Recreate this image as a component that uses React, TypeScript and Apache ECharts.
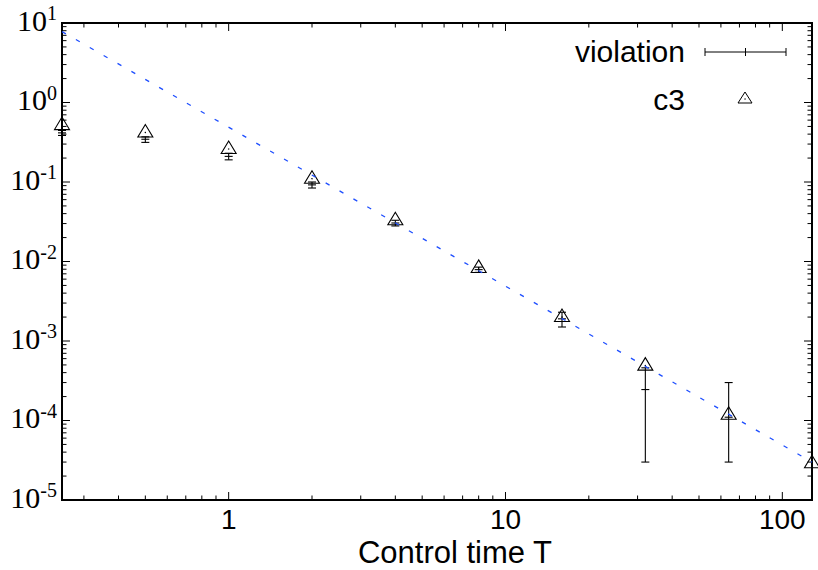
import React, { useEffect, useRef } from "react";
import * as echarts from "echarts";

// ---- data ----
const T_VALUES = [0.25, 0.5, 1, 2, 4, 8, 16, 32, 64, 128];
const C3_VALUES = [0.52, 0.42, 0.26, 0.11, 0.033, 0.0083, 0.002, 0.00049, 0.000118, 0.000029];

const VIOLATION_T = [0.25, 0.5, 1, 2, 4, 8, 16, 32, 64];
const VIOLATION_MEAN = [0.415, 0.345, 0.21, 0.092, 0.0305, 0.0079, 0.0019, 0.000245, 0.00011];
const VIOLATION_LOW = [0.385, 0.315, 0.19, 0.084, 0.028, 0.0073, 0.0015, 0.00003, 0.00003];
const VIOLATION_HIGH = [0.445, 0.37, 0.23, 0.1, 0.033, 0.0085, 0.0023, 0.00046, 0.0003];

const FIT_T = [0.25, 128];
const FIT_VALUES = [7.8, 0.00003];

// ---- axes ----
const X_MIN = 0.25;
const X_MAX = 128;
const Y_MIN = 1e-5;
const Y_MAX = 10;
const X_LABEL_VALUES = [1, 10, 100];
const X_LABEL_TEXTS = ["1", "10", "100"];
const Y_LABEL_VALUES = [1e-5, 1e-4, 1e-3, 1e-2, 1e-1, 1, 10];
const Y_LABEL_EXPONENTS = ["-5", "-4", "-3", "-2", "-1", "0", "1"];
const X_MAJOR_TICKS = [1, 10, 100];
const X_MINOR_TICKS = [
  0.3, 0.4, 0.5, 0.6, 0.7, 0.8, 0.9,
  2, 3, 4, 5, 6, 7, 8, 9,
  20, 30, 40, 50, 60, 70, 80, 90,
];
const Y_MAJOR_TICKS = [1e-5, 1e-4, 1e-3, 1e-2, 1e-1, 1, 10];
const Y_MINOR_MULTIPLIERS = [2, 3, 4, 5, 6, 7, 8, 9];
const Y_DECADES = [1e-5, 1e-4, 1e-3, 1e-2, 1e-1, 1];

const SANS = "'Liberation Sans', Arial, Helvetica, sans-serif";
const SERIF = "'Liberation Serif', 'Times New Roman', serif";

export default function App() {
  const ref = useRef<HTMLDivElement>(null);

  useEffect(() => {
    if (!ref.current) return;
    const chart = echarts.init(ref.current, undefined, { renderer: "svg" });

    const yMinor: number[] = [];
    Y_DECADES.forEach((d) =>
      Y_MINOR_MULTIPLIERS.forEach((m) => yMinor.push(parseFloat((d * m).toPrecision(3))))
    );

    // tick items: [x, y, kind(0=x,1=y), major]
    const tickData: number[][] = [];
    X_MAJOR_TICKS.forEach((v) => tickData.push([v, Y_MIN, 0, 1]));
    X_MINOR_TICKS.forEach((v) => tickData.push([v, Y_MIN, 0, 0]));
    Y_MAJOR_TICKS.forEach((v) => tickData.push([X_MIN, v, 1, 1]));
    yMinor.forEach((v) => tickData.push([X_MIN, v, 1, 0]));

    const black = "#000";

    const option: any = {
      animation: false,
      backgroundColor: "#fff",
      grid: {
        left: 62,
        right: 6,
        top: 23,
        bottom: 70,
        show: true,
        borderColor: black,
        borderWidth: 2,
        backgroundColor: "transparent",
      },
      xAxis: {
        type: "log",
        logBase: 10,
        min: X_MIN,
        max: X_MAX,
        axisLine: { show: false },
        axisTick: { show: false },
        axisLabel: { show: false },
        splitLine: { show: false },
      },
      yAxis: {
        type: "log",
        logBase: 10,
        min: Y_MIN,
        max: Y_MAX,
        axisLine: { show: false },
        axisTick: { show: false },
        axisLabel: { show: false },
        splitLine: { show: false },
      },
      series: [
        {
          name: "ticks",
          type: "custom",
          clip: false,
          silent: true,
          encode: { x: 0, y: 1 },
          data: tickData,
          renderItem: (params: any, api: any) => {
            const kind = api.value(2);
            const len = api.value(3) ? 8 : 4.5;
            const st = { stroke: black, lineWidth: 1 };
            if (kind === 0) {
              const b = api.coord([api.value(0), Y_MIN]);
              const t = api.coord([api.value(0), Y_MAX]);
              return {
                type: "group",
                children: [
                  { type: "line", shape: { x1: b[0], y1: b[1], x2: b[0], y2: b[1] - len }, style: st },
                  { type: "line", shape: { x1: t[0], y1: t[1], x2: t[0], y2: t[1] + len }, style: st },
                ],
              };
            }
            const l = api.coord([X_MIN, api.value(1)]);
            const r = api.coord([X_MAX, api.value(1)]);
            return {
              type: "group",
              children: [
                { type: "line", shape: { x1: l[0], y1: l[1], x2: l[0] + len, y2: l[1] }, style: st },
                { type: "line", shape: { x1: r[0], y1: r[1], x2: r[0] - len, y2: r[1] }, style: st },
              ],
            };
          },
        },
        {
          name: "xLabels",
          type: "custom",
          clip: false,
          silent: true,
          encode: { x: 0, y: 1 },
          data: X_LABEL_VALUES.map((v) => [v, Y_MIN]),
          renderItem: (params: any, api: any) => {
            const p = api.coord([api.value(0), Y_MIN]);
            return {
              type: "text",
              x: p[0],
              y: p[1] + 19,
              style: {
                text: X_LABEL_TEXTS[params.dataIndex],
                fontFamily: SANS,
                fontSize: 28,
                fill: black,
                align: "center",
                verticalAlign: "middle",
              },
            };
          },
        },
        {
          name: "yLabels",
          type: "custom",
          clip: false,
          silent: true,
          encode: { x: 0, y: 1 },
          data: Y_LABEL_VALUES.map((v) => [X_MIN, v]),
          renderItem: (params: any, api: any) => {
            const p = api.coord([X_MIN, api.value(1)]);
            return {
              type: "text",
              x: p[0] - 5,
              y: p[1] - 3,
              style: {
                text: "{b|10}{s|" + Y_LABEL_EXPONENTS[params.dataIndex] + "}",
                align: "right",
                verticalAlign: "middle",
                fill: black,
                rich: {
                  b: { fontFamily: SERIF, fontSize: 30, lineHeight: 34, fill: black },
                  s: { fontFamily: SERIF, fontSize: 20, lineHeight: 20, verticalAlign: "top", fill: black },
                },
              },
            };
          },
        },
        {
          name: "fit",
          type: "line",
          data: FIT_T.map((t, i) => [t, FIT_VALUES[i]]),
          showSymbol: false,
          symbol: "none",
          silent: true,
          lineStyle: { color: "#1f4fff", width: 1.3, type: [4.5, 11.5] },
        },
        {
          name: "violation",
          type: "custom",
          clip: false,
          encode: { x: 0, y: 1 },
          data: VIOLATION_T.map((t, i) => [t, VIOLATION_MEAN[i], VIOLATION_LOW[i], VIOLATION_HIGH[i]]),
          renderItem: (params: any, api: any) => {
            const t = api.value(0);
            const c = api.coord([t, api.value(1)]);
            const lo = api.coord([t, api.value(2)]);
            const hi = api.coord([t, api.value(3)]);
            const st = { stroke: black, lineWidth: 1.1 };
            const w = 4;
            return {
              type: "group",
              children: [
                { type: "line", shape: { x1: c[0], y1: lo[1], x2: c[0], y2: hi[1] }, style: st },
                { type: "line", shape: { x1: c[0] - w, y1: lo[1], x2: c[0] + w, y2: lo[1] }, style: st },
                { type: "line", shape: { x1: c[0] - w, y1: hi[1], x2: c[0] + w, y2: hi[1] }, style: st },
                { type: "line", shape: { x1: c[0] - w, y1: c[1], x2: c[0] + w, y2: c[1] }, style: st },
              ],
            };
          },
        },
        {
          name: "c3",
          type: "custom",
          clip: false,
          encode: { x: 0, y: 1 },
          data: T_VALUES.map((t, i) => [t, C3_VALUES[i]]),
          renderItem: (params: any, api: any) => {
            const p = api.coord([api.value(0), api.value(1)]);
            return {
              type: "group",
              children: [
                {
                  type: "polygon",
                  shape: { points: [[p[0], p[1] - 8], [p[0] - 7.5, p[1] + 4.5], [p[0] + 7.5, p[1] + 4.5]] },
                  style: { stroke: black, lineWidth: 1.1, fill: "none" },
                },
                { type: "circle", shape: { cx: p[0], cy: p[1], r: 0.7 }, style: { fill: black } },
              ],
            };
          },
        },
      ],
      graphic: [
        {
          type: "text",
          x: 685,
          y: 51,
          style: { text: "violation", fontFamily: SANS, fontSize: 30, fill: black, align: "right", verticalAlign: "middle" },
        },
        { type: "line", shape: { x1: 705, y1: 52, x2: 786, y2: 52 }, style: { stroke: black, lineWidth: 1 } },
        { type: "line", shape: { x1: 705, y1: 48, x2: 705, y2: 56 }, style: { stroke: black, lineWidth: 1 } },
        { type: "line", shape: { x1: 786, y1: 48, x2: 786, y2: 56 }, style: { stroke: black, lineWidth: 1 } },
        { type: "line", shape: { x1: 745.5, y1: 48, x2: 745.5, y2: 56 }, style: { stroke: black, lineWidth: 1 } },
        {
          type: "text",
          x: 685,
          y: 99,
          style: { text: "c3", fontFamily: SANS, fontSize: 30, fill: black, align: "right", verticalAlign: "middle" },
        },
        {
          type: "polygon",
          shape: { points: [[745, 92], [738, 103], [752, 103]] },
          style: { stroke: black, lineWidth: 1, fill: "none" },
        },
        { type: "circle", shape: { cx: 745, cy: 99, r: 0.7 }, style: { fill: black } },
        {
          type: "text",
          x: 455,
          y: 552,
          style: { text: "Control time T", fontFamily: SANS, fontSize: 31, fill: black, align: "center", verticalAlign: "middle" },
        },
      ],
    };

    chart.setOption(option);
    return () => chart.dispose();
  }, []);

  return (
    <div
      ref={ref}
      style={{ position: "fixed", left: 0, top: 0, width: 818, height: 570, background: "#fff" }}
    />
  );
}
